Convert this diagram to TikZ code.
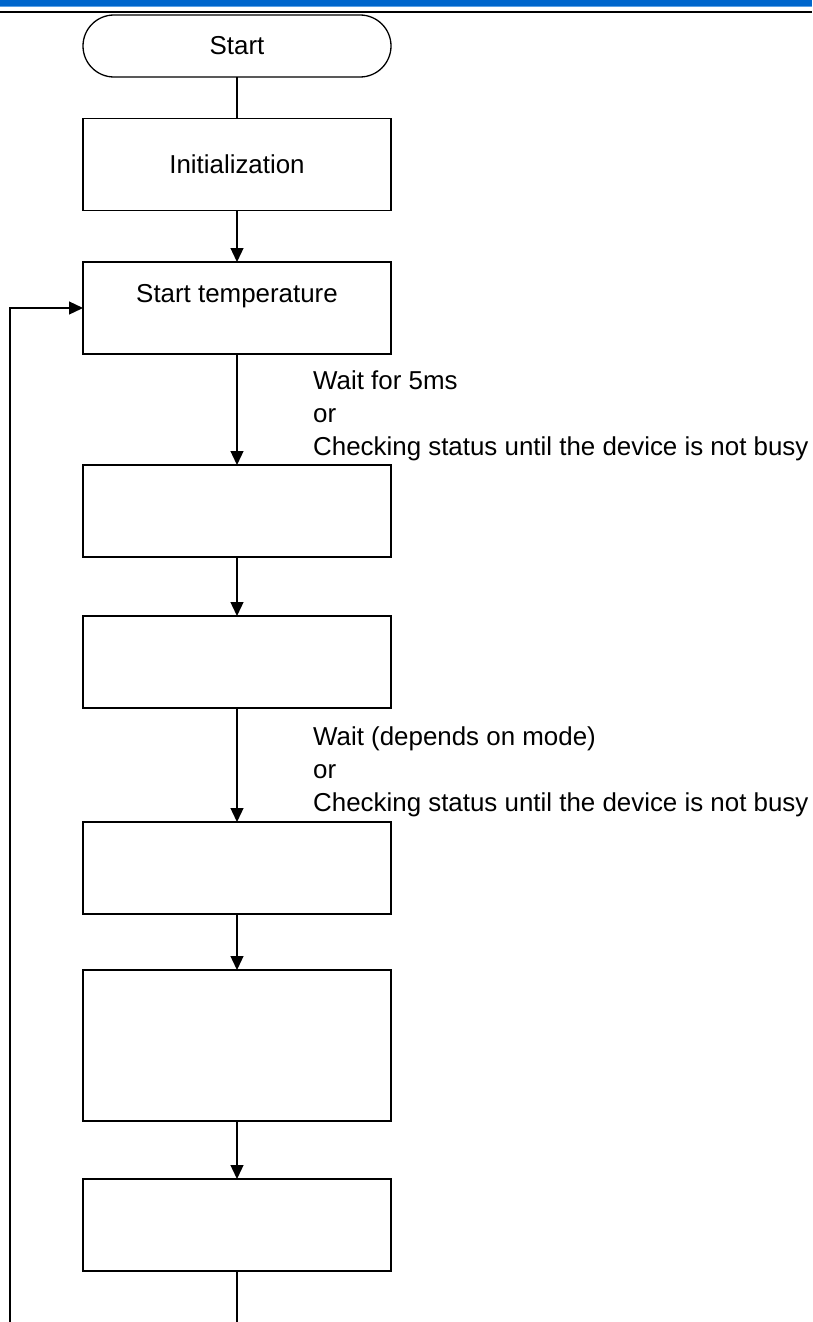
\documentclass[tikz,border=0pt]{standalone}
\usepackage{fontspec}
\setmainfont{Liberation Sans}
\usetikzlibrary{arrows.meta}
\definecolor{barblue}{RGB}{0,102,204}
\definecolor{barlight}{RGB}{90,160,230}
\tikzset{
  flow/.style={line width=1.3pt, draw=black},
  stepbox/.style={flow, rectangle, minimum width=308pt, minimum height=92pt, inner sep=0pt, outer sep=0pt},
  tallbox/.style={stepbox, minimum height=151pt},
  termbox/.style={flow, rectangle, rounded corners=31pt, minimum width=308pt, minimum height=62pt, inner sep=0pt, outer sep=0pt},
  conn/.style={line width=1.3pt},
  arr/.style={conn, -{Triangle[length=14pt,width=13pt]}},
  lbl/.style={anchor=base west, inner sep=0pt},
  txt/.style={font=\fontsize{25.9pt}{30pt}\selectfont}
}
\begin{document}
\begin{tikzpicture}[x=1pt,y=-1pt,every node/.style={txt}]
\useasboundingbox (0,0) rectangle (812,1322);
% header bar
\fill[barblue] (0,0) rectangle (812,7);
\draw[barlight, line width=1pt] (0,6.5) -- (812,6.5);
\draw[black, line width=1.6pt] (0,12) -- (812,12);
% nodes
\node[termbox] (start) at (237,46) {Start};
\node[stepbox] (init) at (237,164.5) {Initialization};
\node[stepbox] (st) at (237,308) {};
\node[anchor=base, inner sep=0pt] (sttext) at (237,302) {Start temperature};
\node[stepbox] (b3) at (237,511) {};
\node[stepbox] (b4) at (237,662) {};
\node[stepbox] (b5) at (237,868) {};
\node[tallbox] (b6) at (237,1045.5) {};
\node[stepbox] (b7) at (237,1225) {};
% labels
\node[lbl] (l1a) at (313,389) {Wait for 5ms};
\node[lbl] (l1b) at (313,422) {or};
\node[lbl] (l1c) at (313,455) {Checking status until the device is not busy};
\node[lbl] (l2a) at (313,745) {Wait (depends on mode)};
\node[lbl] (l2b) at (313,778) {or};
\node[lbl] (l2c) at (313,811) {Checking status until the device is not busy};
% coordinates
\coordinate (bend) at (237,1322);
\coordinate (loopb) at (10,1322);
\coordinate (loopt) at (10,308);
% connectors
\draw[conn] (start) -- (init);
\draw[arr] (init) -- (st);
\draw[arr] (st) -- (b3);
\draw[arr] (b3) -- (b4);
\draw[arr] (b4) -- (b5);
\draw[arr] (b5) -- (b6);
\draw[arr] (b6) -- (b7);
\draw[conn] (b7) -- (bend);
\draw[arr] (loopb) -- (loopt) -- (st.west);
\end{tikzpicture}
\end{document}
